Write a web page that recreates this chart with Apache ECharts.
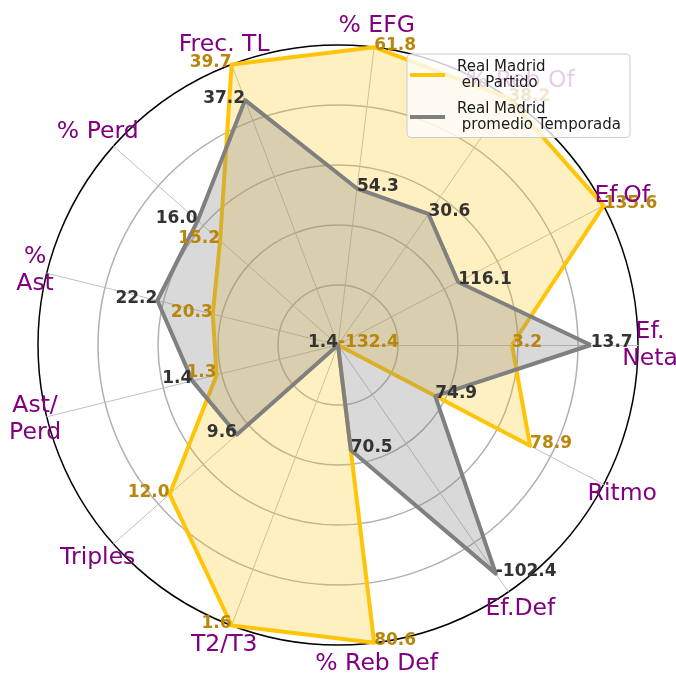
<!DOCTYPE html>
<html><head><meta charset="utf-8">
<script src="https://cdn.jsdelivr.net/npm/echarts@6/dist/echarts.min.js"></script>
<style>html,body{margin:0;padding:0;background:#fff}#c{width:676px;height:674px}</style>
</head><body><div id="c"></div>
<script>
const categories = ['Ef.\nNeta','Ef.Of','% Reb Of','% EFG','Frec. TL','% Perd','%\nAst','Ast/\nPerd','Triples','T2/T3','% Reb Def','Ef.Def','Ritmo'];
const partido   = [3.2, 135.6, 38.2, 61.8, 39.7, 15.2, 20.3, 1.3, 12.0, 1.6, 80.6, -132.4, 78.9];
const temporada = [13.7, 116.1, 30.6, 54.3, 37.2, 16.0, 22.2, 1.4, 9.6, 1.4, 70.5, -102.4, 74.9];
const axisMin = [-20, 100, 22, 46, 20, 11, 16, 0.8, 6, 1.4, 65, -132.4, 70.8];
const axisMax = [20, 135.6, 38.2, 61.8, 39.7, 19, 26, 2.0, 14, 1.6, 80.6, -100, 82];
const seriesNames = ['Real Madrid\n en Partido', 'Real Madrid\n promedio Temporada'];

const YEL = '#FFC508', GRAY = '#808080';
const N = categories.length, step = 360 / N;
const onLeft = i => { const a = i * step; return a > 90 && a < 270; };
const fmt = v => v.toFixed(1);
const FONT = 'DejaVu Sans';

function labelItem(name, values, color, rightAligned) {
  return {
    name, value: values, symbol: 'circle', symbolSize: 1,
    itemStyle: {color: 'rgba(0,0,0,0)'},
    lineStyle: {width: 0, opacity: 0},
    label: {
      show: true, position: 'inside', align: rightAligned ? 'right' : 'left', verticalAlign: 'middle',
      color, fontSize: 17, fontWeight: 'bold', fontFamily: FONT, offset: [0, -2],
      formatter: p => (onLeft(p.dimensionIndex) === rightAligned) ? fmt(values[p.dimensionIndex]) : ''
    }
  };
}
const catPos = categories.map((c, i) => axisMin[i] + (axisMax[i] - axisMin[i]) * (c.includes('\n') ? 1.04 : 1.07));

const chart = echarts.init(document.getElementById('c'));
chart.setOption({
  animation: false,
  legend: {
    orient: 'vertical', left: 407, top: 54, z: 10,
    padding: [4.5, 9, 4, 3], itemGap: 9, itemWidth: 35, itemHeight: 4, icon: 'rect',
    backgroundColor: 'rgba(255,255,255,0.8)', borderColor: '#cccccc', borderWidth: 1, borderRadius: 4,
    selectedMode: false,
    textStyle: {fontFamily: FONT, fontSize: 15, lineHeight: 16.5, color: '#1a1a1a', padding: [0, 0, 0, 7]},
    data: [{name: seriesNames[0], itemStyle: {color: YEL}}, {name: seriesNames[1], itemStyle: {color: GRAY}}]
  },
  radar: {
    center: [338, 345], radius: 300, startAngle: 0, splitNumber: 5, shape: 'circle',
    indicator: categories.map((c, i) => ({name: c, min: axisMin[i], max: axisMax[i]})),
    axisName: {show: false},
    axisLine: {lineStyle: {color: '#c0c0c0', width: 1}},
    axisTick: {show: false}, axisLabel: {show: false},
    splitLine: {lineStyle: {color: ['#b0b0b0','#b0b0b0','#b0b0b0','#b0b0b0','#b0b0b0','#000000'], width: 1.5}},
    splitArea: {show: false}
  },
  series: [{
    type: 'radar', silent: true,
    data: [
      {name: seriesNames[0], value: partido, symbol: 'circle', symbolSize: 1,
       itemStyle: {color: YEL}, lineStyle: {color: YEL, width: 4, join: 'round'},
       areaStyle: {color: 'rgba(255,197,8,0.25)', opacity: 1}},
      {name: seriesNames[1], value: temporada, symbol: 'circle', symbolSize: 1,
       itemStyle: {color: GRAY}, lineStyle: {color: GRAY, width: 4, join: 'round'},
       areaStyle: {color: 'rgba(128,128,128,0.3)', opacity: 1}},
      labelItem('_y1', partido, '#B8860B', false),
      labelItem('_y2', partido, '#B8860B', true),
      labelItem('_g1', temporada, '#333333', false),
      labelItem('_g2', temporada, '#333333', true),
      {name: '_cat', value: catPos, symbol: 'circle', symbolSize: 1,
       itemStyle: {color: 'rgba(0,0,0,0)'}, lineStyle: {width: 0, opacity: 0},
       label: {show: true, position: 'inside', align: 'center', verticalAlign: 'middle',
               color: '#800080', fontSize: 23.5, lineHeight: 27, fontFamily: FONT,
               formatter: p => categories[p.dimensionIndex]}}
    ]
  }]
});
</script></body></html>
